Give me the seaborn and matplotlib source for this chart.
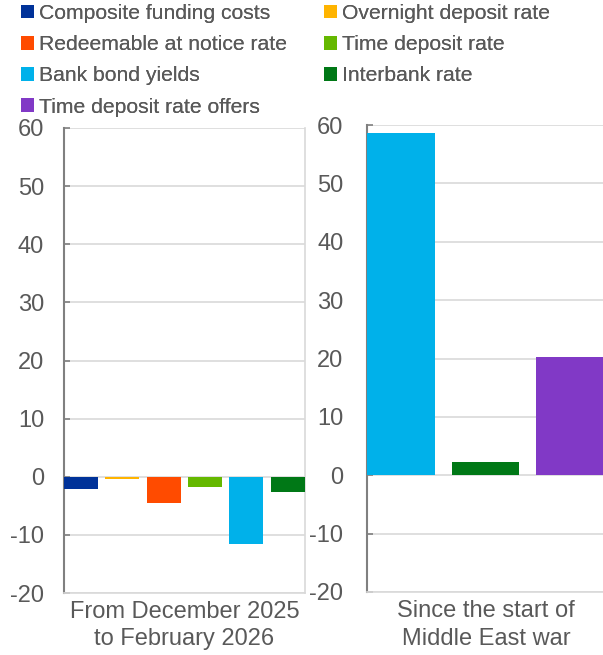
import matplotlib
matplotlib.use("Agg")
import matplotlib.pyplot as plt
import seaborn as sns
import pandas as pd
from matplotlib.patches import Patch

sns.set_theme(style="white")
plt.rcParams['font.family'] = ['Liberation Sans', 'DejaVu Sans']

# Data
left_series = ["Composite funding costs", "Overnight deposit rate", "Redeemable at notice rate",
               "Time deposit rate", "Bank bond yields", "Interbank rate"]
left_values = [-2.1, -0.45, -4.5, -1.8, -11.5, -2.6]
right_series = ["Bank bond yields", "Interbank rate", "Time deposit rate offers"]
right_values = [58.7, 2.2, 20.2]
panel_labels = ["From December 2025\nto February 2026", "Since the start of\nMiddle East war"]
legend_col1 = ["Composite funding costs", "Redeemable at notice rate", "Bank bond yields",
               "Time deposit rate offers"]
legend_col2 = ["Overnight deposit rate", "Time deposit rate", "Interbank rate"]
colors = {
    "Composite funding costs": "#003299",
    "Overnight deposit rate": "#FFB400",
    "Redeemable at notice rate": "#FF4B00",
    "Time deposit rate": "#65B800",
    "Bank bond yields": "#00B1EA",
    "Interbank rate": "#007816",
    "Time deposit rate offers": "#8139C6",
}
yticks = [-20, -10, 0, 10, 20, 30, 40, 50, 60]

TXT = "#595959"
FS = 17
LFS = 15.2

fig = plt.figure(figsize=(6.03, 6.55), dpi=100)
axL = fig.add_axes([64/603, 62/655, 241/603, 465/655])
axR = fig.add_axes([367/603, 63/655, 238/603, 467/655])

dfL = pd.DataFrame({"series": left_series, "value": left_values})
dfR = pd.DataFrame({"series": right_series, "value": right_values})

sns.barplot(data=dfL, x="series", y="value", hue="series", palette=colors,
            order=left_series, width=0.82, legend=False, ax=axL, saturation=1,
            zorder=3, linewidth=0)
sns.barplot(data=dfR, x="series", y="value", hue="series", palette=colors,
            order=right_series, width=0.80, legend=False, ax=axR, saturation=1,
            zorder=3, linewidth=0)

axL.set_xlim(-0.41, 5.42)
axR.set_xlim(-0.40, 2.41)

for ax, lab, pad in zip([axL, axR], panel_labels, [14.4, 17]):
    ax.set_ylim(-20, 60)
    ax.set_yticks(yticks)
    ax.set_yticklabels([str(t) for t in yticks])
    ax.yaxis.grid(True, color="#d9d9d9", linewidth=1.2, zorder=0)
    ax.set_axisbelow(True)
    ax.set_xticks([])
    ax.set_xlabel("")
    ax.set_ylabel("")
    ax.tick_params(axis="y", direction="in", length=4, width=1.2, color="#808080",
                   labelsize=FS, labelcolor=TXT, pad=pad, left=True)
    for s in ["top", "right", "bottom"]:
        ax.spines[s].set_color("#d9d9d9")
        ax.spines[s].set_linewidth(1.2)
    ax.spines["top"].set_visible(False)
    ax.spines["left"].set_color("#808080")
    ax.spines["left"].set_linewidth(1.5)
    ax.text(0.5, -0.018, lab, transform=ax.transAxes, ha="center", va="top",
            fontsize=FS, color=TXT, linespacing=1.3)

for names, x0 in [(legend_col1, 21/603), (legend_col2, 324/603)]:
    handles = [Patch(facecolor=colors[s], edgecolor="none", label=s) for s in names]
    leg = fig.legend(handles=handles, loc="upper left", bbox_to_anchor=(x0, 1 - 4/655),
                     ncol=1, frameon=False, fontsize=LFS, handlelength=0.62,
                     handleheight=0.62, handletextpad=0.22, labelspacing=0.58,
                     borderaxespad=0, borderpad=0)
    for t in leg.get_texts():
        t.set_color(TXT)
    fig.add_artist(leg)

fig.savefig("out.png", dpi=100)
